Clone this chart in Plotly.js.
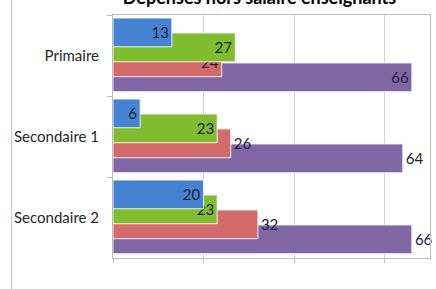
<!DOCTYPE html>
<html>
<head>
<meta charset="utf-8">
<script src="https://cdn.plot.ly/plotly-3.0.1.min.js"></script>
<style>html,body{margin:0;padding:0;background:#fff;}#chart{width:436px;height:289px;}</style>
</head>
<body>
<div id="chart"></div>
<script>
const categories = ['Primaire', 'Secondaire 1', 'Secondaire 2'];
const serieBleue = [13, 6, 20];
const serieVerte = [27, 23, 23];
const serieRouge = [24, 26, 32];
const serieViolette = [66, 64, 66];
const chartTitle = 'Dépenses hors salaire enseignants';

const labelFont = {family: 'Lato, "Open Sans", sans-serif', size: 15, color: '#1c2238'};

function mk(vals, color, offset, positions) {
  return {
    type: 'bar', orientation: 'h',
    y: categories, x: vals,
    offset: offset, width: 0.355,
    marker: {color: color, line: {color: 'rgba(245,245,245,0.95)', width: 1}},
    text: vals.map(String),
    textposition: positions,
    insidetextanchor: 'end',
    textangle: 0,
    constraintext: 'none',
    cliponaxis: false,
    textfont: labelFont,
    insidetextfont: labelFont,
    outsidetextfont: labelFont,
    hoverinfo: 'x+y',
    showlegend: false
  };
}

const data = [
  mk(serieViolette, '#8166a6', 0.092, ['inside', 'outside', 'outside']),
  mk(serieRouge, '#d46b6b', -0.093, ['inside', 'outside', 'outside']),
  mk(serieVerte, '#7fbd2e', -0.278, ['inside', 'inside', 'inside']),
  mk(serieBleue, '#4682d2', -0.463, ['inside', 'inside', 'inside'])
];

const layout = {
  width: 436, height: 289,
  margin: {l: 112.6, r: 5.5, t: 15, b: 31, pad: 0},
  paper_bgcolor: '#ffffff', plot_bgcolor: '#ffffff',
  barmode: 'overlay',
  title: {
    text: '<b>' + chartTitle + '</b>',
    font: {family: 'Lato, "Open Sans", sans-serif', size: 18, color: '#000'},
    x: 259.5 / 436, xanchor: 'center', xref: 'container',
    y: 1 - 3.5 / 289, yanchor: 'bottom', yref: 'container'
  },
  xaxis: {
    range: [0, 70], dtick: 20, tick0: 0,
    showgrid: true, gridcolor: '#d0d0d0', gridwidth: 1,
    showline: true, linecolor: '#bdbdbd', linewidth: 1, mirror: true,
    ticks: 'outside', ticklen: 4, tickcolor: '#bdbdbd',
    showticklabels: false, zeroline: false, fixedrange: true
  },
  yaxis: {
    type: 'category', autorange: 'reversed',
    showline: true, linecolor: '#bdbdbd', linewidth: 1, mirror: true,
    ticks: 'outside', ticklen: 5, tickcolor: '#bdbdbd', tickson: 'boundaries',
    ticklabelstandoff: 10,
    tickfont: {family: 'Lato, "Open Sans", sans-serif', size: 15, color: '#262626'},
    showgrid: false, zeroline: false, fixedrange: true
  },
  shapes: [{
    type: 'line', xref: 'paper', yref: 'paper',
    x0: (11 - 112.6) / 317.9, x1: (11 - 112.6) / 317.9,
    y0: -31 / 243, y1: 1 + 15 / 243,
    line: {color: '#c4c4c4', width: 1}
  }]
};

Plotly.newPlot('chart', data, layout, {displayModeBar: false, staticPlot: true});
</script>
</body>
</html>
